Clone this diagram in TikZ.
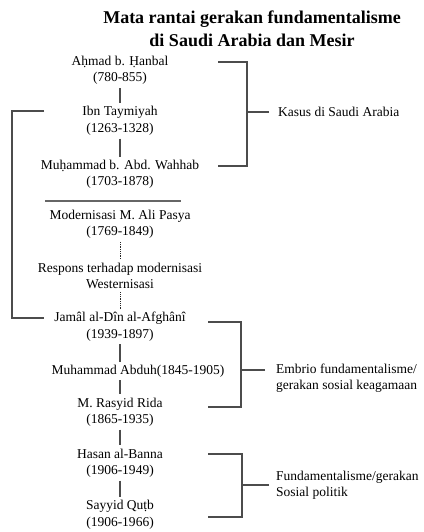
\documentclass[tikz,border=0pt]{standalone}
\usepackage{fontspec}
\setmainfont{Liberation Serif}
\begin{document}
\begin{tikzpicture}[x=1pt,y=-1pt,
	tokoh/.style={align=center,inner xsep=2pt,inner ysep=3pt,font=\fontsize{13.5}{16.5}\selectfont},
	ket/.style={align=left,anchor=west,inner sep=1pt,font=\fontsize{13.5}{16.5}\selectfont},
	garis/.style={line width=1.1pt,draw=black!70},
	titik/.style={densely dotted,line width=0.8pt,draw=black!85}]
	\useasboundingbox (0,0) rectangle (423,532);
	
	%title
	\node[align=center,font=\fontsize{18}{23}\selectfont\bfseries] (judul) at (252,29)
		{Mata rantai gerakan fundamentalisme\\di Saudi Arabia dan Mesir};
	
	%chain
	\node[tokoh] (hanbal)   at (120,70.5)  {Aḥmad b. Ḥanbal\\(780-855)};
	\node[tokoh] (taymiyah) at (120,121)   {Ibn Taymiyah\\(1263-1328)};
	\node[tokoh] (wahhab)   at (120,174.5) {Muḥammad b. Abd. Wahhab\\(1703-1878)};
	\node[tokoh] (alipasya) at (120,224.5) {Modernisasi M. Ali Pasya\\(1769-1849)};
	\node[tokoh] (respons)  at (120,276)   {Respons terhadap modernisasi\\Westernisasi};
	\node[tokoh] (jamal)    at (120,326.5) {Jamâl al-Dîn al-Afghânî\\(1939-1897)};
	\node[tokoh] (abduh)    at (138,371)   {Muhammad Abduh(1845-1905)};
	\node[tokoh] (rida)     at (120,412)   {M. Rasyid Rida\\(1865-1935)};
	\node[tokoh] (banna)    at (120,463)   {Hasan al-Banna\\(1906-1949)};
	\node[tokoh] (qutb)     at (120,514.5) {Sayyid Quṭb\\(1906-1966)};
	
	\draw[garis] (hanbal)   -- (taymiyah);
	\draw[garis] (taymiyah) -- (wahhab);
	\draw[titik] (alipasya) -- (respons);
	\draw[titik] (respons)  -- (jamal);
	\draw[garis] (jamal.south) -- (jamal.south |- abduh.north);
	\draw[garis] (jamal.south |- abduh.south) -- (rida.north);
	\draw[garis] (rida)  -- (banna);
	\draw[garis] (banna) -- (qutb);
	
	%separator
	\coordinate (pisahA) at (45,201);
	\coordinate (pisahB) at (181,201);
	\draw[line width=1.5pt,draw=black!60] (pisahA) -- (pisahB);
	
	%long link on the left
	\coordinate (linkA) at (44,111);
	\coordinate (linkB) at (44,318);
	\draw[garis] (linkA) -- ++(-32,0) |- (linkB);
	
	%labels
	\node[ket] (kasus)  at (277,112) {Kasus di Saudi Arabia};
	\node[ket] (embrio) at (275,378) {Embrio fundamentalisme/\\gerakan sosial keagamaan};
	\node[ket] (fund)   at (275,485) {Fundamentalisme/gerakan\\Sosial politik};
	
	%brackets
	\coordinate (kasusA) at (218,62);
	\coordinate (kasusB) at (218,166);
	\coordinate (kasusT) at (269,112);
	\draw[garis] (kasusA) -- ++(29,0) |- (kasusB);
	\draw[garis] (kasusT) -- (kasusT -| 247,0);
	%
	\coordinate (embrioA) at (208,322);
	\coordinate (embrioB) at (208,407);
	\coordinate (embrioT) at (265,370);
	\draw[garis] (embrioA) -- ++(33,0) |- (embrioB);
	\draw[garis] (embrioT) -- (embrioT -| 241,0);
	%
	\coordinate (fundA) at (208,454);
	\coordinate (fundB) at (208,517);
	\coordinate (fundT) at (269,485);
	\draw[garis] (fundA) -- ++(34,0) |- (fundB);
	\draw[garis] (fundT) -- (fundT -| 242,0);
\end{tikzpicture}
\end{document}
